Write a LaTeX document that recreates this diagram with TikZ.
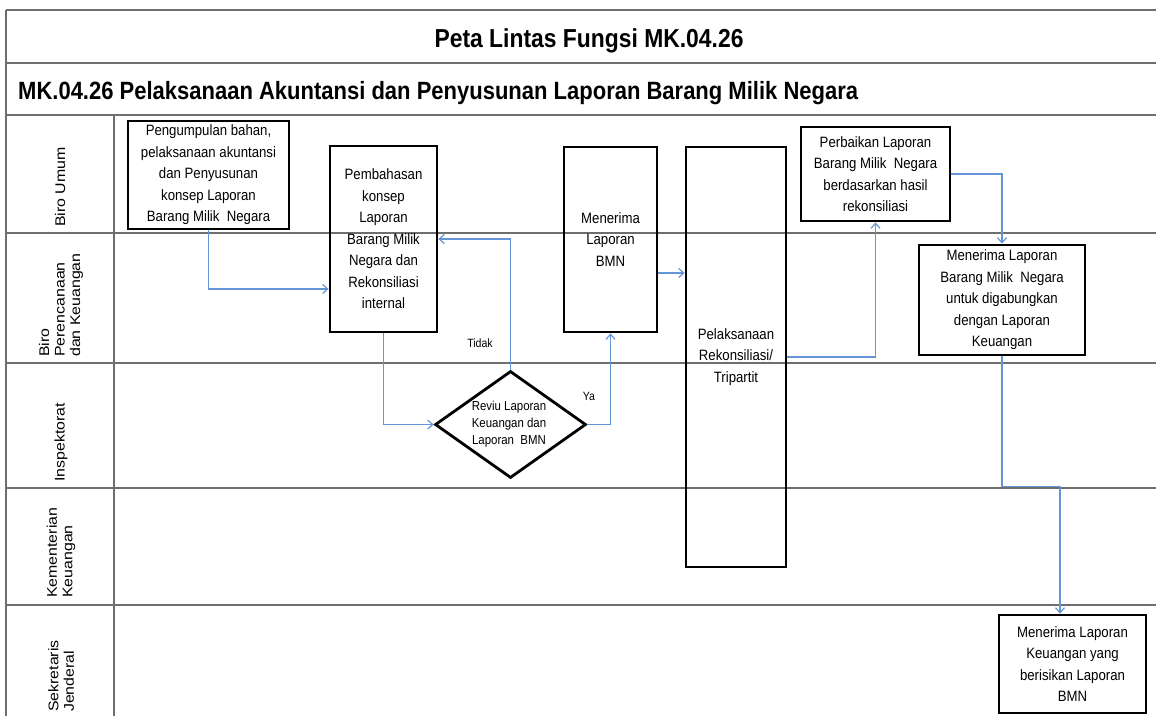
\documentclass[tikz,border=0pt]{standalone}
\usepackage{fontspec}
\setmainfont{Liberation Sans}
\newfontfamily\boxfont[FakeStretch=0.88]{Liberation Sans}
\newfontfamily\lanefont[FakeStretch=1.136]{Liberation Sans}
\usetikzlibrary{arrows.meta,shapes.geometric,calc}
\definecolor{flow}{RGB}{100,150,215}
\definecolor{grid}{RGB}{110,110,110}
\tikzset{
  frame/.style={draw=grid, line width=1.8pt},
  proc/.style={draw=black, line width=2.8pt, inner sep=0pt, align=center,
    font=\boxfont\fontsize{15}{21.5}\selectfont},
  dia/.style={draw=black, line width=2.8pt, diamond, inner sep=0pt,
    minimum width=151pt, minimum height=107pt, shape aspect=1.41},
  diatext/.style={inner sep=0pt, align=center, font=\boxfont\fontsize{13}{17}\selectfont},
  lane/.style={inner sep=0pt, align=left, rotate=90, anchor=west,
    font=\lanefont\fontsize{14}{15.5}\selectfont},
  conn/.style={draw=flow, line width=1.2pt, -{Straight Barb[length=5pt,width=9pt]}},
  small/.style={inner sep=0pt, font=\boxfont\fontsize{12}{14}\selectfont},
  titletext/.style={inner sep=0pt, font=\boxfont\bfseries\fontsize{26}{30}\selectfont},
  subtext/.style={inner sep=0pt, font=\boxfont\bfseries\fontsize{25}{30}\selectfont}
}
\begin{document}
\begin{tikzpicture}[x=1pt,y=-1pt]
\useasboundingbox (0,0) rectangle (1156,715);
% frame and lanes
\draw[frame] (6,10) -- (1156,10);
\foreach \yy in {63,115,233,363,488,605} \draw[frame] (6,\yy) -- (1156,\yy);
\draw[frame] (6,10) -- (6,720);
\draw[frame] (114,115) -- (114,720);
% titles
\node[titletext, anchor=base] (title) at (589,47.5) {Peta Lintas Fungsi MK.04.26};
\node[subtext, anchor=base west] (subtitle) at (18,99) {MK.04.26 Pelaksanaan Akuntansi dan Penyusunan Laporan Barang Milik Negara};
% lane labels
\node[lane] (l1) at (60,227) {Biro Umum};
\node[lane] (l2) at (61,357) {Biro\\Perencanaan\\dan Keuangan};
\node[lane] (l3) at (61,482) {Inspektorat};
\node[lane] (l4) at (61,598) {Kementerian\\Keuangan};
\node[lane] (l5) at (61,712) {Sekretaris\\Jenderal};
% process boxes
\node[proc, minimum width=161pt, minimum height=108pt] (b1) at (208.5,175)
  {Pengumpulan bahan,\\pelaksanaan akuntansi\\dan Penyusunan\\konsep Laporan\\Barang Milik\ \ Negara};
\node[proc, minimum width=107pt, minimum height=186pt] (b2) at (383.5,239)
  {Pembahasan\\konsep\\Laporan\\Barang Milik\\Negara dan\\Rekonsiliasi\\internal};
\node[proc, minimum width=93pt, minimum height=185pt] (b3) at (610.5,239.5)
  {Menerima\\Laporan\\BMN};
\node[proc, minimum width=100pt, minimum height=420pt] (b4) at (736,357)
  {Pelaksanaan\\Rekonsiliasi/\\Tripartit};
\node[proc, minimum width=149pt, minimum height=94pt] (b5) at (875.5,174)
  {Perbaikan Laporan\\Barang Milik\ \ Negara\\berdasarkan hasil\\rekonsiliasi};
\node[proc, minimum width=166pt, minimum height=110pt] (b6) at (1002,300)
  {Menerima Laporan\\Barang Milik\ \ Negara\\untuk digabungkan\\dengan Laporan\\Keuangan};
\node[proc, minimum width=147pt, minimum height=98pt] (b7) at (1072.5,664)
  {Menerima Laporan\\Keuangan yang\\berisikan Laporan\\BMN};
% decision
\node[dia] (d) at (510.5,424.5) {};
\node[diatext] (dt) at (509,424) {Reviu Laporan\\Keuangan dan\\Laporan\ \ BMN};
% connectors
\draw[conn] (b1.south) |- ([yshift=-50pt]b2.west);
\draw[conn] (b2.south) |- (d.west);
\draw[conn] (d.north) |- (b2.east);
\draw[conn] (d.east) -| (b3.south);
\draw[conn] ([yshift=-33.5pt]b3.east) -- ([yshift=-33.5pt]b3.east -| b4.west);
\draw[conn] (b4.east) -| (b5.south);
\draw[conn] (b5.east) -| (b6.north);
\draw[conn] (b6.south) -- ++(0,130) -| ([xshift=-12.5pt]b7.north);
% labels
\node[small] (tidak) at (480,343) {Tidak};
\node[small] (ya) at (589,396) {Ya};
\end{tikzpicture}
\end{document}
